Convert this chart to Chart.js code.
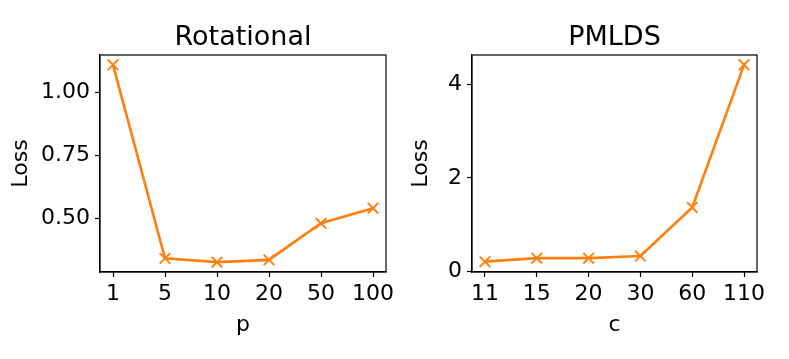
<!DOCTYPE html>
<html>
<head>
<meta charset="utf-8">
<script src="https://cdn.jsdelivr.net/npm/chart.js@4/dist/chart.umd.min.js"></script>
<style>
  body { margin: 0; background: #fff; width: 789px; height: 359px; overflow: hidden; position: relative; }
  .box { position: absolute; top: 0; height: 359px; }
</style>
</head>
<body>
<div class="box" style="left:0;width:400px"><canvas id="rot"></canvas></div>
<div class="box" style="left:400px;width:389px"><canvas id="pmlds"></canvas></div>
<script>
// Rotational: loss against p
const rotP = ['1', '5', '10', '20', '50', '100'];
const rotLoss = [1.108, 0.341, 0.326, 0.335, 0.48, 0.54];
const rotTicks = [0.5, 0.75, 1.0];

// PMLDS: loss against c
const pmC = ['11', '15', '20', '30', '60', '110'];
const pmLoss = [0.21, 0.285, 0.285, 0.33, 1.37, 4.42];
const pmTicks = [0, 2, 4];

const orange = '#ff7f0e';
const FONT = 'DejaVu Sans';

// black box round the plot area + title centred over it (matplotlib style)
const frame = {
  id: 'frame',
  afterDatasetsDraw(chart, args, opts) {
    const a = chart.chartArea, ctx = chart.ctx;
    ctx.save();
    ctx.strokeStyle = '#000';
    ctx.lineWidth = 1.2;
    ctx.strokeRect(a.left, a.top, a.right - a.left, a.bottom - a.top);
    ctx.fillStyle = '#000';
    ctx.font = '27px "' + FONT + '"';
    ctx.textAlign = 'center';
    ctx.textBaseline = 'alphabetic';
    ctx.fillText(opts.text, (a.left + a.right) / 2, a.top - 10);
    ctx.restore();
  }
};

function makeChart(id, title, xName, cats, vals, yTicks, yMin, yMax, digits, areaLeft, padRight) {
  const ctx = document.getElementById(id).getContext('2d');
  return new Chart(ctx, {
    type: 'line',
    data: {
      datasets: [{
        data: vals.map((v, i) => ({ x: i, y: v })),
        borderColor: orange,
        borderWidth: 2.6,
        pointStyle: 'crossRot',
        pointRadius: 7.5,
        pointBorderWidth: 1.9,
        pointBorderColor: orange,
        tension: 0
      }]
    },
    options: {
      responsive: true,
      maintainAspectRatio: false,
      animation: false,
      devicePixelRatio: 1,
      layout: { padding: { left: 0, right: padRight, top: 55, bottom: 21 } },
      plugins: {
        legend: { display: false },
        tooltip: { enabled: false },
        title: { display: false },
        frame: { text: title }
      },
      scales: {
        x: {
          type: 'linear',
          min: -0.25,
          max: cats.length - 0.75,
          afterBuildTicks: s => { s.ticks = cats.map((c, i) => ({ value: i })); },
          afterFit: s => { s.height = 359 - 272 - 21; },
          ticks: {
            callback: v => cats[v],
            autoSkip: false,
            maxRotation: 0,
            color: '#000',
            padding: 4,
            font: { family: FONT, size: 22 }
          },
          grid: { drawOnChartArea: false, tickLength: 5, tickColor: '#000', tickWidth: 1.2 },
          border: { color: '#000', width: 1.2 },
          title: {
            display: true,
            text: xName,
            color: '#000',
            font: { family: FONT, size: 22 },
            padding: { top: 2, bottom: 0 }
          }
        },
        y: {
          min: yMin,
          max: yMax,
          afterBuildTicks: s => { s.ticks = yTicks.map(v => ({ value: v })); },
          afterFit: s => { s.width = areaLeft; },
          ticks: {
            callback: v => v.toFixed(digits),
            color: '#000',
            padding: 5,
            font: { family: FONT, size: 22 }
          },
          grid: { drawOnChartArea: false, tickLength: 5, tickColor: '#000', tickWidth: 1.2 },
          border: { color: '#000', width: 1.2 },
          title: {
            display: true,
            text: 'Loss',
            color: '#000',
            font: { family: FONT, size: 22 },
            padding: { top: 8, bottom: 4 }
          }
        }
      }
    },
    plugins: [frame]
  });
}

makeChart('rot', 'Rotational', 'p', rotP, rotLoss, rotTicks, 0.287, 1.147, 2, 100, 14);
makeChart('pmlds', 'PMLDS', 'c', pmC, pmLoss, pmTicks, -0.011, 4.63, 0, 72, 32);
</script>
</body>
</html>
